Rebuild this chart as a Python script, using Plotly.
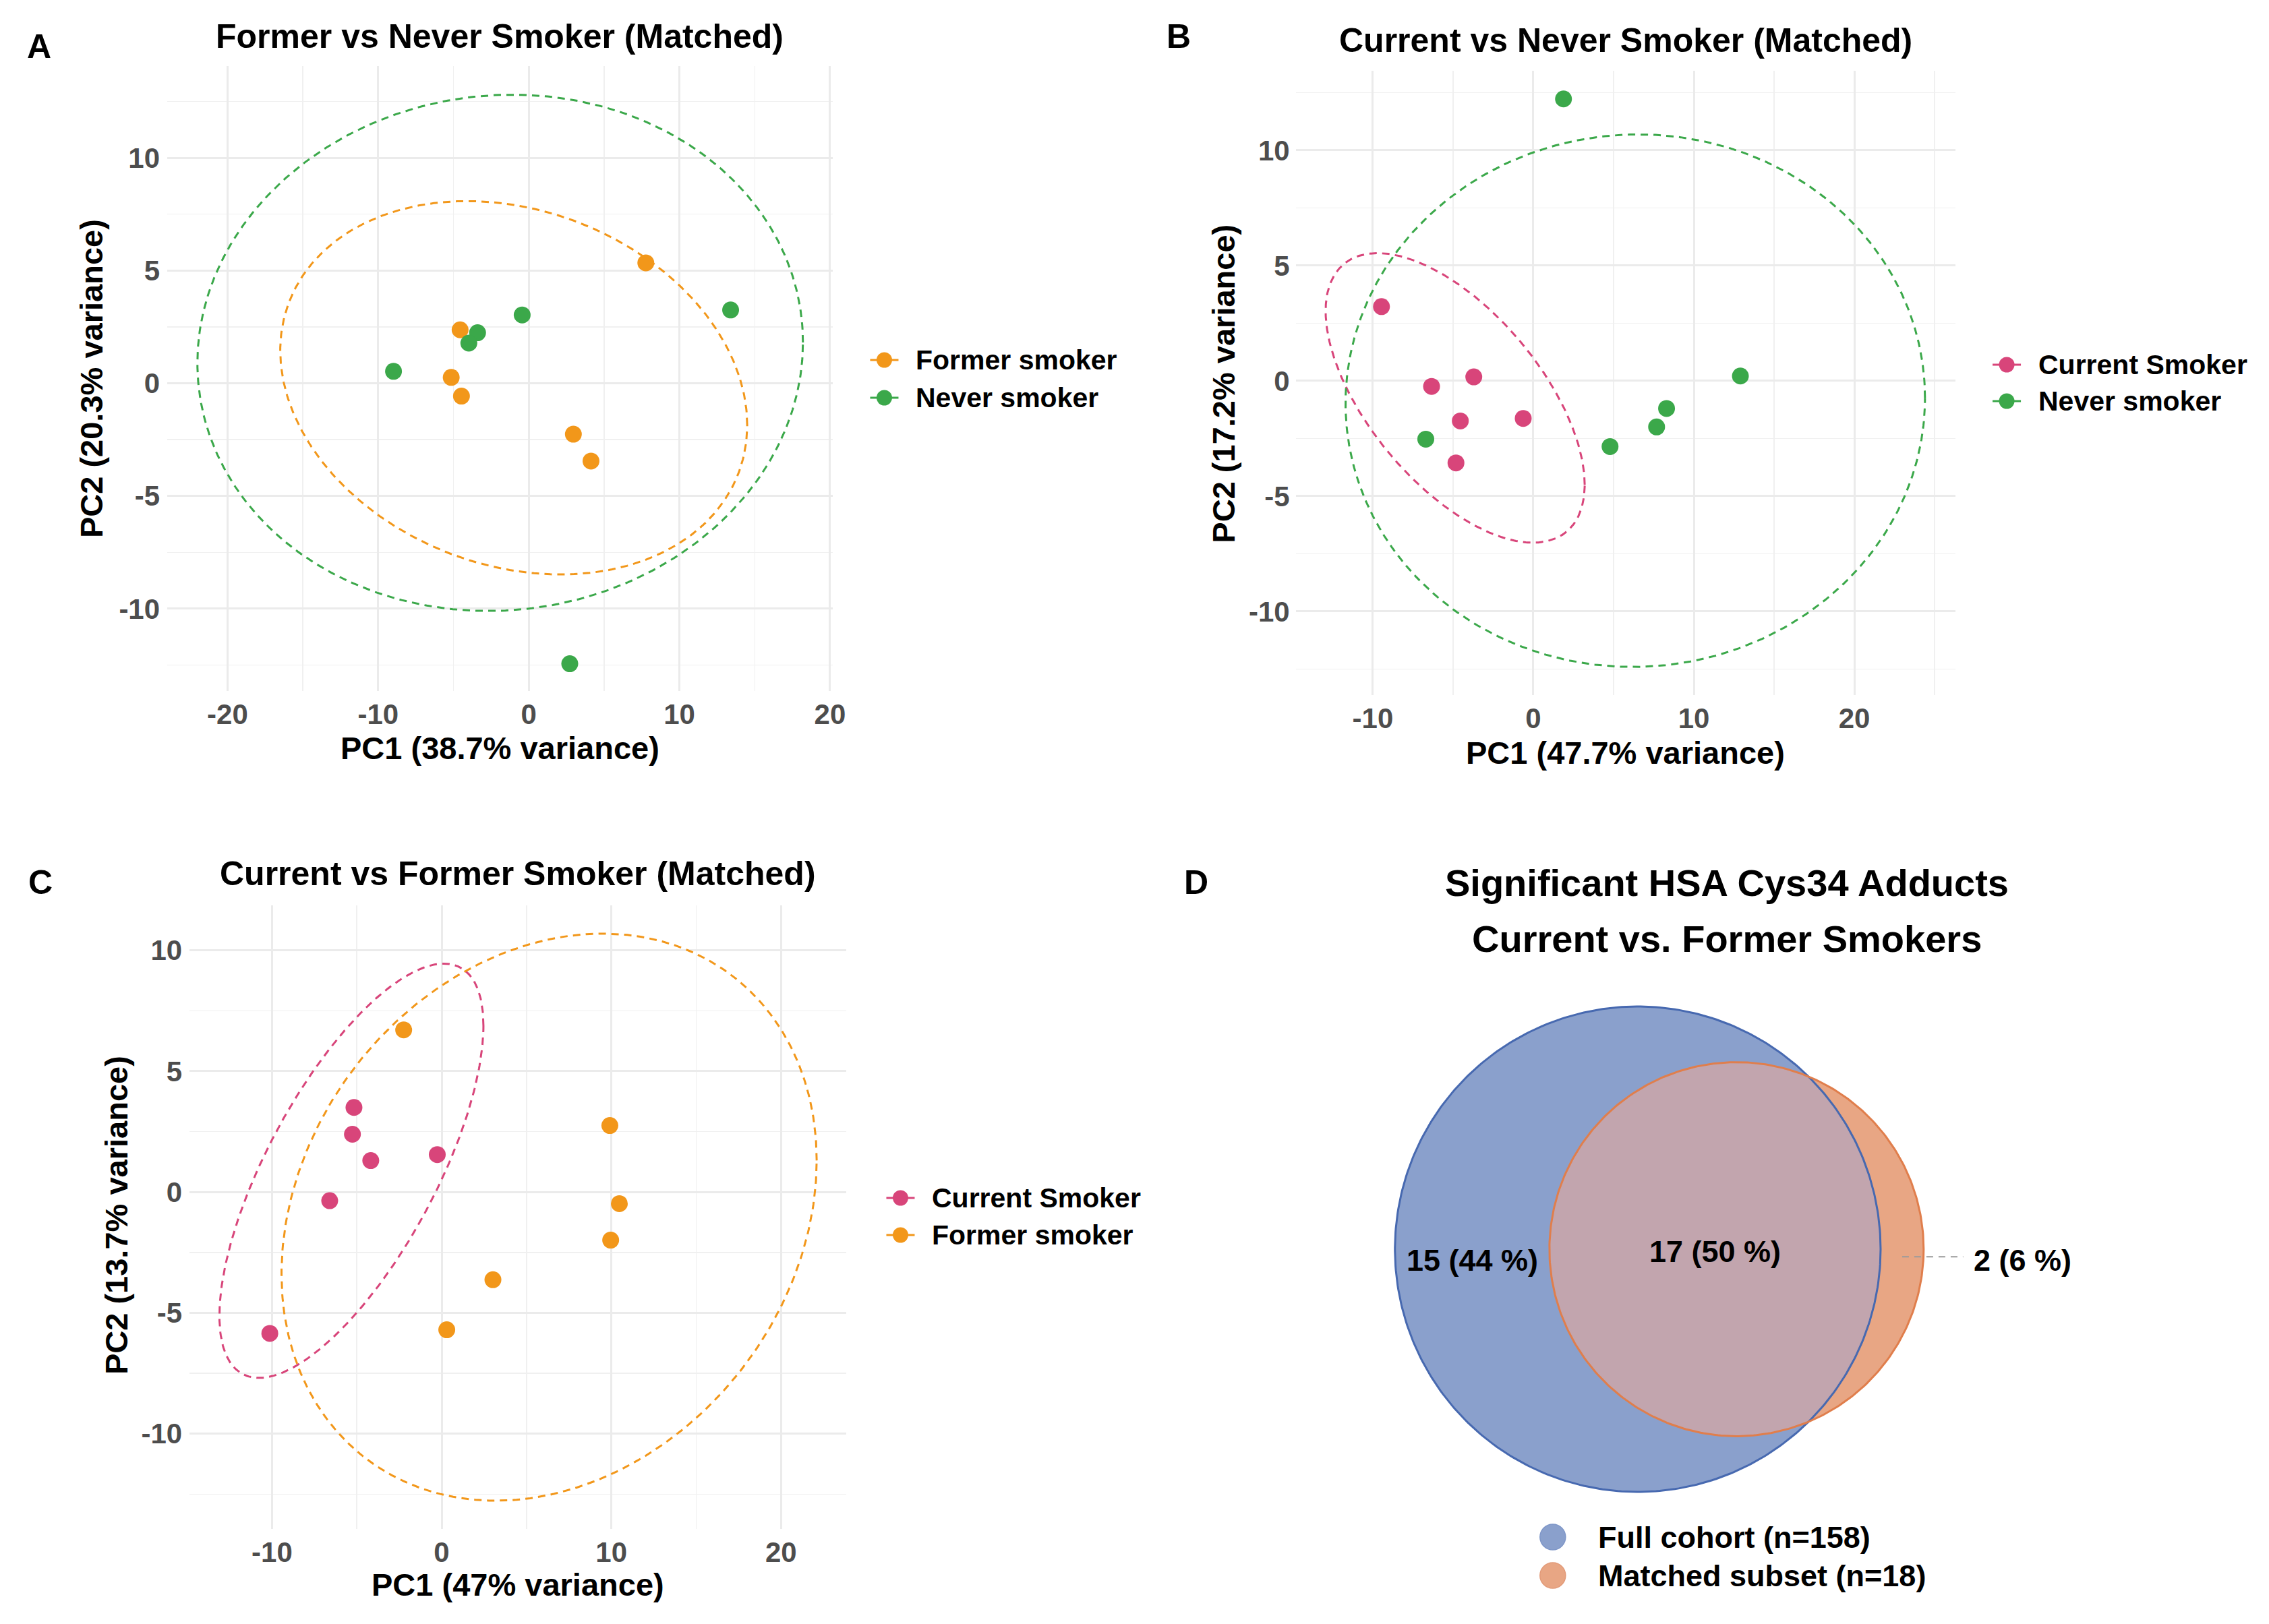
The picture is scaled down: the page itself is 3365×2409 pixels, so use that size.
import numpy as np
import plotly.graph_objects as go

# ---------------- data ----------------
A_former_x = [7.77, -4.56, -5.15, -4.47, 2.96, 4.13]
A_former_y = [5.34, 2.37, 0.26, -0.57, -2.26, -3.45]
A_never_x = [13.40, -0.44, -3.40, -3.98, -8.98, 2.72]
A_never_y = [3.25, 3.03, 2.24, 1.78, 0.53, -12.44]

B_current_x = [-9.46, -6.34, -3.71, -4.55, -0.63, -4.82]
B_current_y = [3.22, -0.24, 0.17, -1.74, -1.63, -3.56]
B_never_x = [1.88, 12.90, 8.30, 7.68, 4.78, -6.70]
B_never_y = [12.23, 0.21, -1.20, -2.00, -2.85, -2.53]

C_current_x = [-5.17, -5.26, -4.18, -0.26, -6.60, -10.13]
C_current_y = [3.50, 2.39, 1.30, 1.55, -0.36, -5.85]
C_former_x = [-2.24, 9.91, 10.47, 9.96, 3.02, 0.30]
C_former_y = [6.71, 2.75, -0.48, -1.99, -3.63, -5.70]

# 95% ellipses: centre x, centre y, half-width, half-height, correlation
A_former_ellipse = [-1.00, -0.20, 15.50, 8.28, -0.20]
A_never_ellipse = [-1.90, 1.35, 20.10, 11.45, 0.04]
B_current_ellipse = [-4.87, -0.74, 8.07, 6.28, -0.60]
B_never_ellipse = [6.35, -0.86, 18.05, 11.55, 0.01]
C_current_ellipse = [-5.32, 0.88, 7.78, 8.57, 0.70]
C_former_ellipse = [6.33, -1.04, 15.77, 11.73, 0.20]

A_x_ticks = [-20, -10, 0, 10, 20]
A_y_ticks = [-10, -5, 0, 5, 10]
B_x_ticks = [-10, 0, 10, 20]
B_y_ticks = [-10, -5, 0, 5, 10]
C_x_ticks = [-10, 0, 10, 20]
C_y_ticks = [-10, -5, 0, 5, 10]

venn_sets = ["Full cohort (n=158)", "Matched subset (n=18)"]
venn_counts = [15, 17, 2]  # full only, both, matched only

# ---------------- styles ----------------
W, H = 3365, 2409
XC = 0.994  # horizontal correction for the capture
FONT = "Liberation Sans, Arial, Helvetica, sans-serif"
ORANGE = "#F2971A"
GREEN = "#3BA84A"
PINK = "#D8457A"
BLUE_FILL = "#8AA0CC"
BLUE_LINE = "#4769B0"
ORG_FILL = "#E8A684"
ORG_LINE = "#E07E4C"
LENS_FILL = "#C2A5AE"
GRID = "#EBEBEB"


def fx(p):
    return p / (W * XC)


def fy(p):
    return 1 - p / H


def ellipse(p, n=361):
    cx, cy, sx, sy, rho = p
    t = np.linspace(0, 2 * np.pi, n)
    x = cx + sx * np.cos(t)
    y = cy + sy * (rho * np.cos(t) + np.sqrt(1 - rho ** 2) * np.sin(t))
    return x, y


def minor_of(ticks, rng):
    step = ticks[1] - ticks[0]
    cand = [ticks[0] - step / 2] + [v + step / 2 for v in ticks]
    return [v for v in cand if rng[0] <= v <= rng[1]]


fig = go.Figure()

panels = [
    dict(xa="x", ya="y", key_x=1311, rows=[534, 590],
         groups=[("Former smoker", ORANGE, A_former_x, A_former_y, A_former_ellipse),
                 ("Never smoker", GREEN, A_never_x, A_never_y, A_never_ellipse)]),
    dict(xa="x2", ya="y2", key_x=2975, rows=[541, 595],
         groups=[("Current Smoker", PINK, B_current_x, B_current_y, B_current_ellipse),
                 ("Never smoker", GREEN, B_never_x, B_never_y, B_never_ellipse)]),
    dict(xa="x3", ya="y3", key_x=1335, rows=[1777, 1832],
         groups=[("Current Smoker", PINK, C_current_x, C_current_y, C_current_ellipse),
                 ("Former smoker", ORANGE, C_former_x, C_former_y, C_former_ellipse)]),
]

for pan in panels:
    for name, col, xs, ys, ell in pan["groups"]:
        fig.add_trace(go.Scatter(x=xs, y=ys, mode="markers", xaxis=pan["xa"], yaxis=pan["ya"],
                                 name=name, marker=dict(color=col, size=25, line=dict(width=0)),
                                 showlegend=False, hoverinfo="skip"))
    for name, col, xs, ys, ell in pan["groups"]:
        ex, ey = ellipse(ell)
        fig.add_trace(go.Scatter(x=ex, y=ey, mode="lines", xaxis=pan["xa"], yaxis=pan["ya"],
                                 line=dict(color=col, width=3, dash="11px,8px"),
                                 showlegend=False, hoverinfo="skip"))

# ---------------- Venn (area proportional) ----------------
n_full = venn_counts[0] + venn_counts[1]
n_match = venn_counts[1] + venn_counts[2]
r1 = np.sqrt(n_full / np.pi)
r2 = np.sqrt(n_match / np.pi)


def lens_area(d):
    a1 = np.clip((d * d + r1 * r1 - r2 * r2) / (2 * d * r1), -1, 1)
    a2 = np.clip((d * d + r2 * r2 - r1 * r1) / (2 * d * r2), -1, 1)
    k = max((-d + r1 + r2) * (d + r1 - r2) * (d - r1 + r2) * (d + r1 + r2), 0)
    return r1 * r1 * np.arccos(a1) + r2 * r2 * np.arccos(a2) - 0.5 * np.sqrt(k)


lo, hi = abs(r1 - r2) + 1e-9, r1 + r2
for _ in range(80):
    mid = (lo + hi) / 2
    if lens_area(mid) > venn_counts[1]:
        lo = mid
    else:
        hi = mid
d = (lo + hi) / 2

t = np.linspace(0, 2 * np.pi, 400)
c1x, c1y = r1 * np.cos(t), r1 * np.sin(t)
c2x, c2y = d + r2 * np.cos(t), r2 * np.sin(t)
a = (d * d + r1 * r1 - r2 * r2) / (2 * d)
h = np.sqrt(r1 * r1 - a * a)
th1 = np.arctan2(h, a)
th2 = np.arctan2(h, d - a)
s1 = np.linspace(-th1, th1, 200)
s2 = np.linspace(np.pi - th2, np.pi + th2, 200)
lx = np.concatenate([r1 * np.cos(s1), d + r2 * np.cos(s2)])
ly = np.concatenate([r1 * np.sin(s1), r2 * np.sin(s2)])

for xs, ys, fc in [(c1x, c1y, BLUE_FILL), (c2x, c2y, ORG_FILL), (lx, ly, LENS_FILL)]:
    fig.add_trace(go.Scatter(x=xs, y=ys, mode="lines", fill="toself", fillcolor=fc,
                             line=dict(width=0, color=fc), xaxis="x4", yaxis="y4",
                             showlegend=False, hoverinfo="skip"))
for xs, ys, lc in [(c1x, c1y, BLUE_LINE), (c2x, c2y, ORG_LINE)]:
    fig.add_trace(go.Scatter(x=xs, y=ys, mode="lines", line=dict(width=3, color=lc),
                             xaxis="x4", yaxis="y4", showlegend=False, hoverinfo="skip"))

total = sum(venn_counts)
labels = [f"{c} ({round(100 * c / total)} %)" for c in venn_counts]
lab_font = dict(family=FONT, size=45, color="black", weight="bold")
annotations = []
annotations.append(dict(x=(-r1 + d - r2) / 2, y=-0.15, xref="x4", yref="y4", text=labels[0],
                        showarrow=False, font=lab_font))
annotations.append(dict(x=(d - r2 + r1) / 2, y=-0.03, xref="x4", yref="y4", text=labels[1],
                        showarrow=False, font=lab_font))
lead0 = (r1 + d + r2) / 2
lead1 = d + r2 + 0.52
annotations.append(dict(x=lead1 + 0.12, y=-0.15, xref="x4", yref="y4", text=labels[2],
                        xanchor="left", showarrow=False, font=lab_font))
shapes = [dict(type="line", xref="x4", yref="y4", x0=lead0, x1=lead1, y0=-0.1, y1=-0.1,
               line=dict(color="#9A9A9A", width=2, dash="10px,8px"))]

# ---------------- axes ----------------
def axis(domain, rng, ticks, anchor, standoff):
    return dict(domain=domain, range=rng, anchor=anchor, tickmode="array", tickvals=ticks,
                ticktext=[str(v) for v in ticks], showgrid=True, gridcolor=GRID, gridwidth=3,
                zeroline=False, showline=False, ticks="", ticklabelstandoff=standoff,
                tickfont=dict(family=FONT, size=42, color="#4D4D4D", weight="bold"),
                minor=dict(tickmode="array", tickvals=minor_of(ticks, rng), showgrid=True,
                           gridcolor="#F0F0F0", gridwidth=1.5),
                fixedrange=True)

A_xr, A_yr = [-24.0, 20.2], [-13.65, 14.07]
B_xr, B_yr = [-14.8, 26.3], [-13.63, 13.45]
C_xr, C_yr = [-14.86, 23.86], [-13.94, 11.86]

layout = dict(
    width=W, height=H, margin=dict(l=0, r=0, t=0, b=0), showlegend=False,
    paper_bgcolor="white", plot_bgcolor="white",
    xaxis=axis([fx(248), fx(1235)], A_xr, A_x_ticks, "y", 6),
    yaxis=axis([fy(1025), fy(98)], A_yr, A_y_ticks, "x", 10),
    xaxis2=axis([fx(1921), fx(2899)], B_xr, B_x_ticks, "y2", 6),
    yaxis2=axis([fy(1031), fy(105)], B_yr, B_y_ticks, "x2", 8),
    xaxis3=axis([fx(281), fx(1255)], C_xr, C_x_ticks, "y3", 6),
    yaxis3=axis([fy(2268), fy(1343)], C_yr, C_y_ticks, "x3", 10),
)
S = 112.8
x4a, x4b = 2000, 3300
layout["xaxis4"] = dict(domain=[fx(x4a), fx(x4b)],
                        range=[(x4a - 2428) / S, (x4b - 2428) / S],
                        anchor="y4", visible=False, fixedrange=True)
layout["yaxis4"] = dict(domain=[fy(2250), fy(1450)], range=[(1853 - 2250) / S, (1853 - 1450) / S],
                        anchor="x4", visible=False, fixedrange=True)


def ann(x, y, text, size, angle=0, color="black", xanchor="center"):
    return dict(x=fx(x), y=fy(y), xref="paper", yref="paper", text=text, showarrow=False,
                textangle=angle, xanchor=xanchor, yanchor="middle",
                font=dict(family=FONT, size=size, color=color, weight="bold"))


# group legends (key: short line with a point, as in ggplot)
for pan in panels:
    kx = pan["key_x"]
    for (name, col, *_), ry in zip(pan["groups"], pan["rows"]):
        shapes.append(dict(type="line", xref="paper", yref="paper", x0=fx(kx - 21), x1=fx(kx + 21),
                           y0=fy(ry), y1=fy(ry), line=dict(color=col, width=3)))
        shapes.append(dict(type="circle", xref="paper", yref="paper", xsizemode="pixel",
                           ysizemode="pixel", xanchor=fx(kx), yanchor=fy(ry),
                           x0=-11.5, x1=11.5, y0=-11.5, y1=11.5, fillcolor=col,
                           line=dict(color=col, width=0)))
        annotations.append(ann(kx + 45, ry, name, 41, xanchor="left"))

annotations += [
    ann(58, 69, "A", 50), ann(1747, 54, "B", 50), ann(60, 1309, "C", 50), ann(1773, 1309, "D", 50),
    ann(741, 54, "Former vs Never Smoker (Matched)", 50),
    ann(2410, 60, "Current vs Never Smoker (Matched)", 50),
    ann(768, 1296, "Current vs Former Smoker (Matched)", 50),
    ann(741, 1109, "PC1 (38.7% variance)", 47),
    ann(135, 562, "PC2 (20.3% variance)", 47, angle=-90),
    ann(2410, 1116, "PC1 (47.7% variance)", 47),
    ann(1813, 569, "PC2 (17.2% variance)", 47, angle=-90),
    ann(768, 2350, "PC1 (47% variance)", 47),
    ann(172, 1803, "PC2 (13.7% variance)", 47, angle=-90),
    ann(2560, 1309, "Significant HSA Cys34 Adducts", 56),
    ann(2560, 1392, "Current vs. Former Smokers", 56),
    ann(2367, 2280, venn_sets[0], 45, xanchor="left"),
    ann(2367, 2337, venn_sets[1], 45, xanchor="left"),
]

for yy, fc, lc in [(2280, BLUE_FILL, "#7E96C8"), (2337, ORG_FILL, "#E29A78")]:
    shapes.append(dict(type="circle", xref="paper", yref="paper", xsizemode="pixel",
                       ysizemode="pixel", xanchor=fx(2302), yanchor=fy(yy),
                       x0=-19, x1=19, y0=-19, y1=19, fillcolor=fc, line=dict(color=lc, width=1.5)))

layout["annotations"] = annotations
layout["shapes"] = shapes
fig.update_layout(**layout)
fig.write_html(
    "out.html",
    config={"displayModeBar": False, "staticPlot": True},
    post_script=("document.documentElement.style.margin='0';"
                 "document.documentElement.style.overflow='hidden';"
                 "document.body.style.margin='0';"
                 "document.body.style.padding='0';"
                 "document.body.style.overflow='hidden';"),
)
